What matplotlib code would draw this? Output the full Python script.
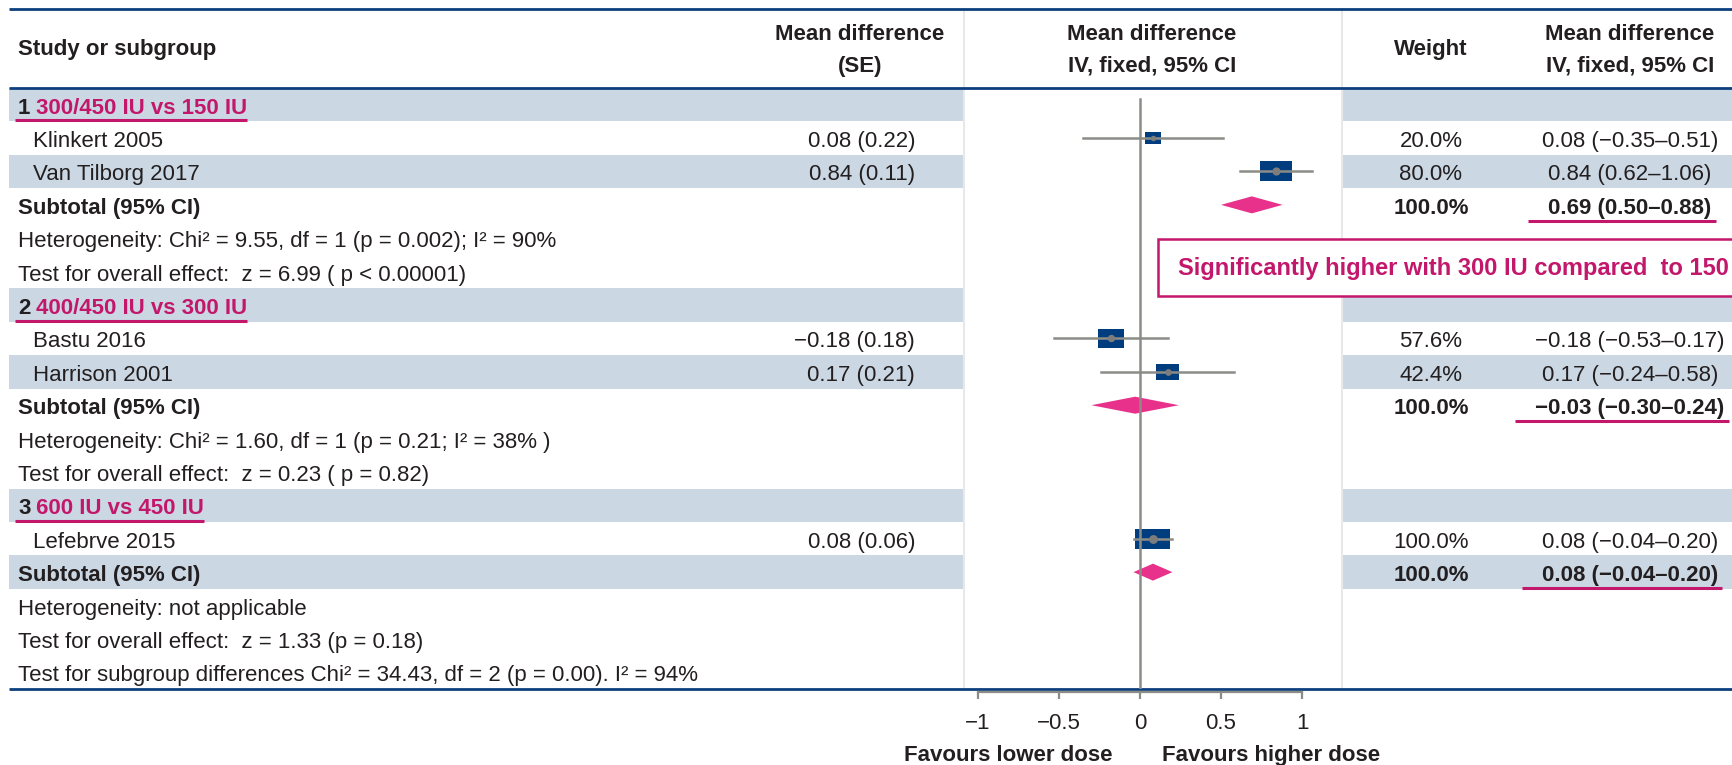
import matplotlib
matplotlib.use('Agg')
import matplotlib.pyplot as plt
from matplotlib.patches import Rectangle, Polygon
from matplotlib import font_manager

# individual studies
study_names = ['Klinkert 2005', 'Van Tilborg 2017', 'Bastu 2016', 'Harrison 2001', 'Lefebrve 2015']
study_md = [0.08, 0.84, -0.18, 0.17, 0.08]
study_se = [0.22, 0.11, 0.18, 0.21, 0.06]
study_lo = [-0.35, 0.62, -0.53, -0.24, -0.04]
study_hi = [0.51, 1.06, 0.17, 0.58, 0.20]
study_weight = [20.0, 80.0, 57.6, 42.4, 100.0]
study_row = [1, 2, 7, 8, 13]

# subgroups and pooled estimates
group_labels = ['300/450 IU vs 150 IU', '400/450 IU vs 300 IU', '600 IU vs 450 IU']
group_row = [0, 6, 12]
sub_md = [0.69, -0.03, 0.08]
sub_lo = [0.50, -0.30, -0.04]
sub_hi = [0.88, 0.24, 0.20]
sub_weight = [100.0, 100.0, 100.0]
sub_row = [3, 9, 14]
het_text = ['Heterogeneity: Chi² = 9.55, df = 1 (p = 0.002); I² = 90%',
            'Heterogeneity: Chi² = 1.60, df = 1 (p = 0.21; I² = 38% )',
            'Heterogeneity: not applicable']
effect_text = ['Test for overall effect:  z = 6.99 ( p < 0.00001)',
               'Test for overall effect:  z = 0.23 ( p = 0.82)',
               'Test for overall effect:  z = 1.33 (p = 0.18)']
subgroup_diff = 'Test for subgroup differences Chi² = 34.43, df = 2 (p = 0.00). I² = 94%'
note = 'Significantly higher with 300 IU compared  to 150'
x_ticks = [-1, -0.5, 0, 0.5, 1]

shaded_rows = [0, 2, 6, 8, 12, 14]
n_rows = 18

TXT = '#231f20'
MAG = '#c2176b'
PINK = '#e8318a'
NAVY = '#003d7f'
LINE = '#0d3f7e'
GREY = '#8c8c86'
SHADE = '#cbd8e4'

names = {f.name for f in font_manager.fontManager.ttflist}
if 'Liberation Sans Narrow' in names:
    plt.rcParams['font.family'] = ['Liberation Sans Narrow', 'DejaVu Sans']
    FS, FS_NOTE = 18.5, 20.5
else:
    plt.rcParams['font.family'] = ['Liberation Sans', 'DejaVu Sans']
    FS, FS_NOTE = 16, 17


def fmt(v):
    return f'{v:.2f}'.replace('-', '\u2212')


W, H = 1732, 765
TOP, HEAD, BOT = 9, 88, 689
RH = (BOT - HEAD) / n_rows
PL, PR = 964, 1342
ZERO, UNIT = 1140, 162.0


def yc(r):
    return HEAD + (r + 0.5) * RH


fig = plt.figure(figsize=(W / 100, H / 100), dpi=100)
bg = fig.add_axes([0, 0, 1, 1])
bg.set_xlim(0, W)
bg.set_ylim(H, 0)
bg.axis('off')

# row shading in the two table blocks
for r in shaded_rows:
    bg.add_patch(Rectangle((9, HEAD + r * RH), PL - 9, RH, color=SHADE, lw=0))
    bg.add_patch(Rectangle((PR, HEAD + r * RH), W - PR, RH, color=SHADE, lw=0))

for x in (PL, PR):
    bg.plot([x, x], [TOP, BOT], color='#e8e8e8', lw=1.5)
for y in (TOP, HEAD, BOT):
    bg.plot([9, W], [y, y], color=LINE, lw=2.0, solid_capstyle='butt')

# header
hb = dict(color=TXT, fontsize=FS, fontweight='bold', va='center')
bg.text(18, 49, 'Study or subgroup', **hb)
bg.text(860, 34, 'Mean difference', ha='center', **hb)
bg.text(860, 66, '(SE)', ha='center', **hb)
bg.text(1152, 34, 'Mean difference', ha='center', **hb)
bg.text(1152, 66, 'IV, fixed, 95% CI', ha='center', **hb)
bg.text(1431, 49, 'Weight', ha='center', **hb)
bg.text(1630, 34, 'Mean difference', ha='center', **hb)
bg.text(1630, 66, 'IV, fixed, 95% CI', ha='center', **hb)

base = dict(color=TXT, fontsize=FS, va='baseline')
bold = dict(base, fontweight='bold')

group_texts = []
for i, (lab, r) in enumerate(zip(group_labels, group_row)):
    n = bg.text(18, yc(r) + 9, f'{i + 1}', **bold)
    t = bg.text(36, yc(r) + 9, lab, **dict(bold, color=MAG))
    group_texts.append((n, t, r))

for name, md, se, lo, hi, w, r in zip(study_names, study_md, study_se, study_lo,
                                      study_hi, study_weight, study_row):
    bg.text(33, yc(r) + 9, name, **base)
    bg.text(915, yc(r) + 9, f'{fmt(md)} ({fmt(se)})', ha='right', **base)
    bg.text(1431, yc(r) + 9, f'{w:.1f}%', ha='center', **base)
    bg.text(1630, yc(r) + 9, f'{fmt(md)} ({fmt(lo)}\u2013{fmt(hi)})', ha='center', **base)

sub_texts = []
for i, (md, lo, hi, w, r) in enumerate(zip(sub_md, sub_lo, sub_hi, sub_weight, sub_row)):
    bg.text(18, yc(r) + 9, 'Subtotal (95% CI)', **bold)
    bg.text(1431, yc(r) + 9, f'{w:.1f}%', ha='center', **bold)
    t = bg.text(1630, yc(r) + 9, f'{fmt(md)} ({fmt(lo)}\u2013{fmt(hi)})', ha='center', **bold)
    sub_texts.append((t, r))
    bg.text(18, yc(r + 1) + 9, het_text[i], **base)
    bg.text(18, yc(r + 2) + 9, effect_text[i], **base)
bg.text(18, yc(17) + 9, subgroup_diff, **base)

# call-out box
bg.add_patch(Rectangle((1158, 239), 700, 57, fc='white', ec=MAG, lw=1.8, zorder=5))
bg.text(1178, 268, note, color=MAG, fontsize=FS_NOTE, fontweight='bold', va='center', zorder=6)

bg.text(1008, 761, 'Favours lower dose', ha='center', **bold)
bg.text(1271, 761, 'Favours higher dose', ha='center', **bold)

# forest panel
fx = fig.add_axes([PL / W, (H - BOT) / H, (PR - PL) / W, (BOT - HEAD) / H])
fx.set_facecolor('none')
fx.set_xlim((PL - ZERO) / UNIT, (PR - ZERO) / UNIT)
fx.set_ylim(n_rows - 0.5, -0.5)
for s in ('top', 'left', 'right'):
    fx.spines[s].set_visible(False)
fx.spines['bottom'].set_bounds(-1, 1)
fx.spines['bottom'].set_color(GREY)
fx.spines['bottom'].set_linewidth(1.6)
fx.spines['bottom'].set_position(('outward', 2))
fx.set_yticks([])
fx.set_xticks(x_ticks)
fx.set_xticklabels([f'{t:g}'.replace('-', '\u2212') for t in x_ticks])
fx.tick_params(axis='x', direction='out', length=5, width=1.6, color=GREY,
               labelsize=FS, labelcolor=TXT, pad=10)

fx.axvline(0, ymin=0, ymax=(BOT - 99) / (BOT - HEAD), color=GREY, lw=1.8, zorder=5)

for md, lo, hi, w, r in zip(study_md, study_lo, study_hi, study_weight, study_row):
    wpx = 35 * (w / 100) ** 0.5
    hpx = min(0.72 * wpx, 20)
    fx.add_patch(Rectangle((md - wpx / UNIT / 2, r - hpx / RH / 2), wpx / UNIT, hpx / RH,
                           color=NAVY, lw=0, zorder=3))
    fx.plot([lo, hi], [r, r], color=GREY, lw=1.8, zorder=4)
    fx.plot(md, r, 'o', color='#7d7d7d', ms=2 + wpx / 8, mew=0, zorder=6)

for md, lo, hi, r in zip(sub_md, sub_lo, sub_hi, sub_row):
    hh = 8.5 / RH
    fx.add_patch(Polygon([(lo, r), (md, r - hh), (hi, r), (md, r + hh)],
                         closed=True, color=PINK, lw=0, zorder=3))

# magenta underlines, sized from the rendered text
fig.canvas.draw()
inv = bg.transData.inverted()
for n, t, r in group_texts:
    x0 = inv.transform(n.get_window_extent().p0)[0]
    x1 = inv.transform(t.get_window_extent().p1)[0]
    y = HEAD + (r + 1) * RH - 1
    bg.plot([x0 - 3, x1], [y, y], color=MAG, lw=2.2, solid_capstyle='butt')
for t, r in sub_texts:
    e = t.get_window_extent()
    x0 = inv.transform(e.p0)[0]
    x1 = inv.transform(e.p1)[0]
    y = HEAD + (r + 1) * RH - 1
    bg.plot([x0 - 20, x1 + 4], [y, y], color=MAG, lw=2.2, solid_capstyle='butt')

fig.savefig('out.png', dpi=100)
